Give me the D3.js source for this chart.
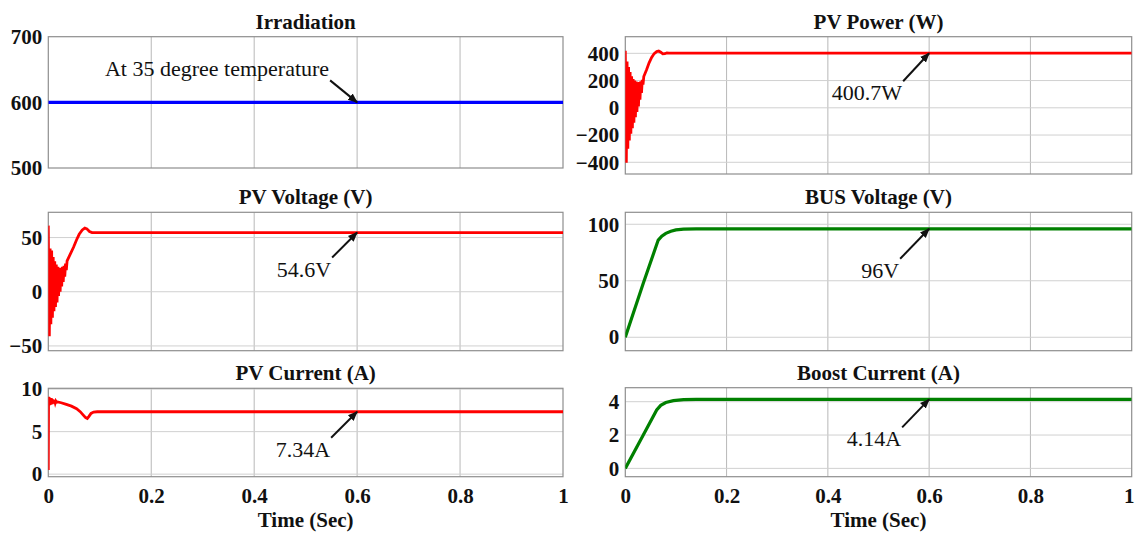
<!DOCTYPE html>
<html>
<head>
<meta charset="utf-8">
<script src="https://cdn.jsdelivr.net/npm/d3@7"></script>
<style>
  html, body { margin: 0; padding: 0; background: #fff; }
  svg { display: block; }
</style>
</head>
<body>
<svg id="chart" width="1135" height="534"></svg>
<script>
// ---- data ----
const timeTicks = [0, 0.2, 0.4, 0.6, 0.8, 1];
const timeTickLabels = ["0", "0.2", "0.4", "0.6", "0.8", "1"];

// Irradiation (W/m2), constant
const irradiation = [[0, 600], [1, 600]];

// PV power (W): switching transient then settling
const pvPower = [
  [0, 419], [0.001, 0], [0.002, -403], [0.0035, 340], [0.005, -300], [0.0065, 300],
  [0.008, -240], [0.0095, 262], [0.011, -190], [0.0125, 232], [0.014, -150], [0.0155, 212],
  [0.017, -110], [0.0185, 200], [0.02, -70], [0.0215, 192], [0.023, -30], [0.0245, 188],
  [0.026, 10], [0.0275, 190], [0.029, 60], [0.0305, 195], [0.032, 110], [0.0335, 205],
  [0.035, 170], [0.0365, 230], [0.042, 280], [0.047, 330], [0.052, 370], [0.057, 398],
  [0.062, 413], [0.066, 417], [0.07, 408], [0.074, 396], [0.078, 397], [0.082, 403],
  [0.086, 400.7], [1, 400.7]
];

// PV voltage (V)
const pvVoltage = [
  [0, 61], [0.001, -10], [0.002, -41], [0.0035, 40], [0.005, -30], [0.0065, 38],
  [0.008, -24], [0.0095, 32], [0.011, -18], [0.0125, 28], [0.014, -14], [0.0155, 25],
  [0.017, -10], [0.0185, 23], [0.02, -4], [0.0215, 22], [0.023, 0], [0.0245, 22],
  [0.026, 5], [0.0275, 23], [0.029, 9], [0.0305, 24], [0.032, 14], [0.0335, 26],
  [0.035, 20], [0.0365, 28.5], [0.042, 34], [0.049, 41], [0.055, 48], [0.06, 53],
  [0.066, 57], [0.071, 58.8], [0.075, 58], [0.08, 55.6], [0.085, 54.6], [1, 54.6]
];

// DC bus voltage (V)
const busVoltage = [
  [0, 0], [0.0355, 47.8], [0.065, 86], [0.072, 89.5], [0.08, 92], [0.09, 93.8],
  [0.1, 95], [0.115, 95.7], [0.14, 96], [1, 96]
];

// PV current (A)
const pvCurrent = [
  [0, 0.5], [0.0005, 9.1], [0.0015, 8.1], [0.0025, 9.0], [0.0035, 8.15], [0.0045, 8.95],
  [0.0055, 8.2], [0.0065, 8.9], [0.0075, 8.25], [0.0085, 8.8], [0.0095, 8.3], [0.0105, 8.72],
  [0.0115, 8.35], [0.0125, 8.65], [0.0135, 8.4], [0.0145, 8.6], [0.016, 8.45], [0.018, 8.5],
  [0.025, 8.4], [0.035, 8.2], [0.045, 8.0], [0.055, 7.7], [0.062, 7.35], [0.068, 6.95],
  [0.0725, 6.65], [0.0758, 6.55], [0.079, 6.8], [0.083, 7.15], [0.088, 7.3], [0.095, 7.34],
  [1, 7.34]
];

// Boost converter current (A)
const boostCurrent = [
  [0, 0], [0.0355, 2.0], [0.062, 3.5], [0.07, 3.78], [0.08, 3.95], [0.095, 4.06],
  [0.115, 4.12], [0.14, 4.14], [1, 4.14]
];

// ---- panel layout ----
const SERIF = '"Liberation Serif", "Times New Roman", serif';

const panels = [
  { title: "Irradiation", data: irradiation, color: "#0000ff", width: 3.2,
    x0: 48.3, x1: 563, y0: 36.7, y1: 168, domain: [500, 700], ticks: [500, 600, 700],
    grid: [600], note: { text: "At 35 degree temperature", t: 0.6, v: 600, dx: -27, dy: -22, below: false } },
  { title: "PV Power (W)", data: pvPower, color: "#ff0000", width: 2.8,
    x0: 625.3, x1: 1131.7, y0: 36.7, y1: 174, domain: [-486, 522], ticks: [-400, -200, 0, 200, 400],
    grid: [-400, -200, 0, 200, 400], note: { text: "400.7W", t: 0.6, v: 400.7, dx: -26, dy: 28, below: true } },
  { title: "PV Voltage (V)", data: pvVoltage, color: "#ff0000", width: 2.8,
    x0: 48.3, x1: 563, y0: 212.3, y1: 350.7, domain: [-54.4, 73.3], ticks: [-50, 0, 50],
    grid: [-50, 0, 50], note: { text: "54.6V", t: 0.6, v: 54.6, dx: -25, dy: 25, below: true } },
  { title: "BUS Voltage (V)", data: busVoltage, color: "#008000", width: 3.2,
    x0: 625.3, x1: 1131.7, y0: 212.3, y1: 350.7, domain: [-11.9, 110.6], ticks: [0, 50, 100],
    grid: [0, 50, 100], note: { text: "96V", t: 0.6, v: 96, dx: -29, dy: 30, below: true } },
  { title: "PV Current (A)", data: pvCurrent, color: "#ff0000", width: 2.8,
    x0: 48.3, x1: 563, y0: 388.3, y1: 476.7, domain: [-0.3, 10.1], ticks: [0, 5, 10],
    grid: [0, 5, 10], note: { text: "7.34A", t: 0.6, v: 7.34, dx: -26, dy: 26, below: true },
    xaxis: true },
  { title: "Boost Current (A)", data: boostCurrent, color: "#008000", width: 3.2,
    x0: 625.3, x1: 1131.7, y0: 387.7, y1: 476.7, domain: [-0.5, 4.84], ticks: [0, 2, 4],
    grid: [0, 2, 4], note: { text: "4.14A", t: 0.6, v: 4.14, dx: -27, dy: 28, below: true },
    xaxis: true }
];

const svg = d3.select("#chart");

const defs = svg.append("defs");
defs.append("marker")
  .attr("id", "arrowhead")
  .attr("viewBox", "0 0 10 10")
  .attr("refX", 9).attr("refY", 5)
  .attr("markerWidth", 5).attr("markerHeight", 5)
  .attr("markerUnits", "strokeWidth")
  .attr("orient", "auto")
  .append("path")
  .attr("d", "M0,1 L10,5 L0,9 Z")
  .attr("fill", "#111");

panels.forEach((p, i) => {
  const x = d3.scaleLinear().domain([0, 1]).range([p.x0, p.x1]);
  const y = d3.scaleLinear().domain(p.domain).range([p.y1, p.y0]);
  const g = svg.append("g");

  const clipId = "clip" + i;
  defs.append("clipPath").attr("id", clipId)
    .append("rect").attr("x", p.x0).attr("y", p.y0)
    .attr("width", p.x1 - p.x0).attr("height", p.y1 - p.y0);

  // grid
  g.append("g").selectAll("line").data(timeTicks.slice(1, -1)).join("line")
    .attr("x1", d => x(d)).attr("x2", d => x(d))
    .attr("y1", p.y0).attr("y2", p.y1)
    .attr("stroke", "#b8b8b8").attr("stroke-width", 1);
  g.append("g").selectAll("line").data(p.grid).join("line")
    .attr("x1", p.x0).attr("x2", p.x1)
    .attr("y1", d => y(d)).attr("y2", d => y(d))
    .attr("stroke", "#d0d0d0").attr("stroke-width", 1);

  // frame
  g.append("rect")
    .attr("x", p.x0).attr("y", p.y0)
    .attr("width", p.x1 - p.x0).attr("height", p.y1 - p.y0)
    .attr("fill", "none").attr("stroke", "#8e8e8e").attr("stroke-width", 1.2);

  // y axis labels
  const yAxis = d3.axisLeft(y).tickValues(p.ticks).tickSize(0).tickPadding(6)
    .tickFormat(d3.format("d"));
  const ya = g.append("g").attr("transform", `translate(${p.x0},0)`).call(yAxis)
    .attr("font-family", SERIF).attr("font-size", 21).attr("font-weight", "bold");
  ya.select(".domain").remove();
  ya.selectAll("text").attr("fill", "#111");

  // x axis labels (bottom row only)
  if (p.xaxis) {
    const xAxis = d3.axisBottom(x).tickValues(timeTicks).tickSize(0).tickPadding(11)
      .tickFormat((d, k) => timeTickLabels[k]);
    const xa = g.append("g").attr("transform", `translate(0,${p.y1})`).call(xAxis)
      .attr("font-family", SERIF).attr("font-size", 21).attr("font-weight", "bold");
    xa.select(".domain").remove();
    xa.selectAll("text").attr("fill", "#111");
    // keep the last label inside the page
    xa.selectAll("text").filter(d => d === 1 && p.x1 > 1100).attr("dx", -3);
    g.append("text")
      .attr("x", (p.x0 + p.x1) / 2).attr("y", 526.5)
      .attr("text-anchor", "middle")
      .attr("font-family", SERIF).attr("font-size", 21).attr("font-weight", "bold")
      .attr("fill", "#111")
      .text("Time (Sec)");
  }

  // title
  g.append("text")
    .attr("x", (p.x0 + p.x1) / 2).attr("y", p.y0 - 8)
    .attr("text-anchor", "middle")
    .attr("font-family", SERIF).attr("font-size", 21).attr("font-weight", "bold")
    .attr("fill", "#111")
    .text(p.title);

  // series
  const line = d3.line().x(d => x(d[0])).y(d => y(d[1]));
  g.append("path").datum(p.data)
    .attr("clip-path", `url(#${clipId})`)
    .attr("d", line)
    .attr("fill", "none")
    .attr("stroke", p.color)
    .attr("stroke-width", p.width)
    .attr("stroke-linejoin", "miter");

  // annotation arrow + label
  const n = p.note;
  const tipX = x(n.t), tipY = y(n.v);
  const tailX = tipX + n.dx, tailY = tipY + n.dy;
  g.append("line")
    .attr("x1", tailX).attr("y1", tailY)
    .attr("x2", tipX).attr("y2", tipY)
    .attr("stroke", "#111").attr("stroke-width", 2)
    .attr("marker-end", "url(#arrowhead)");
  g.append("text")
    .attr("x", tailX - 1)
    .attr("y", n.below ? tailY + 19 : tailY - 4)
    .attr("text-anchor", "end")
    .attr("font-family", SERIF).attr("font-size", 22)
    .attr("fill", "#111")
    .text(n.text);
});
</script>
</body>
</html>
